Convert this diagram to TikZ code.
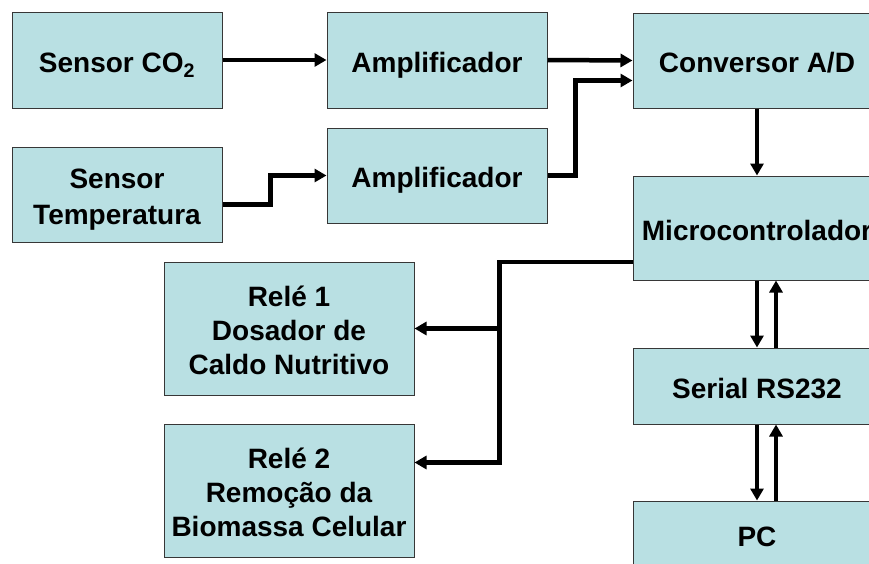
\documentclass[tikz,border=0pt]{standalone}
\usepackage{fontspec}
\setmainfont{Liberation Sans}
\usepackage{tikz}
\usetikzlibrary{arrows.meta}

\definecolor{caixa}{RGB}{185,224,227}
\definecolor{borda}{RGB}{55,55,55}

\begin{document}
\begin{tikzpicture}[
                x=1pt, y=-1pt,
                bloco/.style={draw=borda, line width=1pt, fill=caixa, rectangle, align=center, inner sep=0pt,
                    font=\fontsize{28}{34}\selectfont\bfseries},
                umalinha/.style={text height=24pt, text depth=0pt},
                conn/.style={line width=4.5pt, -{Triangle[length=12pt,width=13pt]}}
            ]
            \useasboundingbox (0,0) rectangle (869,563);
            \clip (0,0) rectangle (869,563);

            % Sensores e amplificadores
            \node[bloco, umalinha, minimum width=210pt, minimum height=96pt] (co2) at (117,60) {Sensor CO\textsubscript{2}};
            \node[bloco, text height=59pt, text depth=0pt, minimum width=210pt, minimum height=95pt] (temp) at (117,194.5) {Sensor\\[2pt]Temperatura};
            \node[bloco, umalinha, minimum width=220pt, minimum height=96pt] (amp1) at (437,60) {Amplificador};
            \node[bloco, umalinha, minimum width=220pt, minimum height=95pt] (amp2) at (437,175.5) {Amplificador};

            % Coluna da direita
            \node[bloco, umalinha, minimum width=248pt, minimum height=95pt] (conv) at (757,60.5) {Conversor A/D};
            \node[bloco, umalinha, minimum width=248pt, minimum height=104pt] (micro) at (757,228) {Microcontrolador};
            \node[bloco, umalinha, minimum width=248pt, minimum height=76pt] (serial) at (757,386) {Serial RS232};
            \node[bloco, umalinha, minimum width=248pt, minimum height=66pt] (pc) at (757,534) {PC};

            % Reles
            \node[bloco, text height=91pt, text depth=0pt, minimum width=250pt, minimum height=133pt] (rele1) at (289,328.5) {Relé 1\\Dosador de\\Caldo Nutritivo};
            \node[bloco, text height=91pt, text depth=0pt, minimum width=250pt, minimum height=133pt] (rele2) at (289,490.5) {Relé 2\\Remoção da\\Biomassa Celular};

            % Ligacoes
            \draw[conn] (co2.east) -- (amp1.west);
            \draw[conn] ([yshift=-10pt]temp.east) -- ++(48pt,0) |- (amp2.west);
            \draw[conn] (amp1.east) -- (conv.west);
            \draw[conn] (amp2.east) -- ++(28pt,0) |- ([yshift=-20pt]conv.west);
            \draw[conn] (conv.south) -- (micro.north);
            \draw[conn] ([yshift=-34pt]micro.west) -| ([xshift=85pt,yshift=28pt]rele2.east) -- ([yshift=28pt]rele2.east);
            \draw[conn] ([xshift=85pt]rele1.east) -- (rele1.east);
            \draw[conn] (micro.south) -- (serial.north);
            \draw[conn] ([xshift=19pt]serial.north) -- ([xshift=19pt]micro.south);
            \draw[conn] (serial.south) -- (pc.north);
            \draw[conn] ([xshift=19pt]pc.north) -- ([xshift=19pt]serial.south);
        \end{tikzpicture}
\end{document}
